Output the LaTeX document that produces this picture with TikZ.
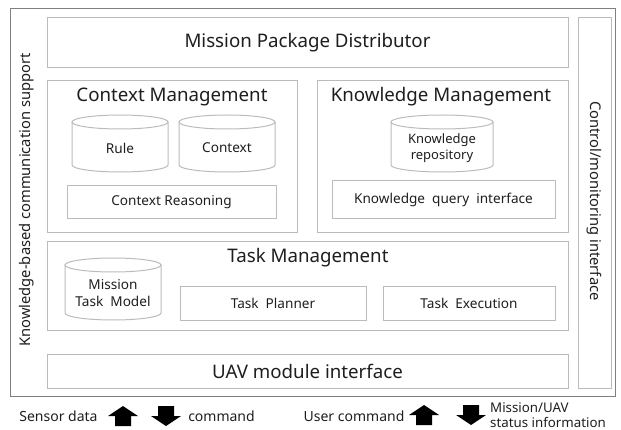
\documentclass[tikz,border=0pt]{standalone}
\usepackage{fontspec}
\setmainfont{Noto Sans}
\definecolor{boxgray}{HTML}{BBBBBB}
\definecolor{framegray}{HTML}{808080}
\definecolor{txt}{HTML}{1E1E1E}
\newcommand\cylbody[4]{%
  \pgfmathsetmacro\cylcx{(#1+#3)/2}%
  \pgfmathsetmacro\cylrx{(#3-#1)/2}%
  \draw[cyl] (\cylcx,{#2+7}) ellipse [x radius=\cylrx, y radius=7];
  \draw[cyl] (#1,{#2+7}) -- (#1,{#4-7}) .. controls (#1,{#4-3.14}) and ({\cylcx-0.552*\cylrx},#4) .. (\cylcx,#4) .. controls ({\cylcx+0.552*\cylrx},#4) and (#3,{#4-3.14}) .. (#3,{#4-7}) -- (#3,{#2+7});
}
\newcommand\arrup[2]{\fill[black] ({#1-8},{#2+20}) -- ({#1-8},{#2+10}) -- ({#1-15},{#2+10}) -- (#1,#2) -- ({#1+15},{#2+10}) -- ({#1+8},{#2+10}) -- ({#1+8},{#2+20}) -- cycle;}
\newcommand\arrdn[2]{\fill[black] ({#1-8},#2) -- ({#1-8},{#2+10}) -- ({#1-15},{#2+10}) -- (#1,{#2+20}) -- ({#1+15},{#2+10}) -- ({#1+8},{#2+10}) -- ({#1+8},#2) -- cycle;}
\begin{document}
\begin{tikzpicture}[x=1pt,y=-1pt,
  box/.style={draw=boxgray, line width=1pt, inner sep=0pt},
  framebox/.style={draw=framegray, line width=1pt, inner sep=0pt},
  title/.style={font=\fontsize{18.7}{22}\selectfont, text=txt},
  side/.style={font=\fontsize{14.7}{17}\selectfont, text=txt},
  small/.style={font=\fontsize{13.6}{16}\selectfont, text=txt, align=center},
  legend/.style={font=\fontsize{14}{16}\selectfont, text=txt},
  cyl/.style={draw=boxgray, line width=1pt}]
\useasboundingbox (0,0) rectangle (621,430);
% outer frame
\node[framebox, minimum width=605pt, minimum height=387pt] (frame) at (312.5,202.5) {};
% main boxes
\node[box, minimum width=521pt, minimum height=50pt, title] (mpd) at (307.5,43) {Mission Package Distributor};
\node[box, minimum width=250pt, minimum height=152pt] (cm) at (172,157) {};
\node[title] (cmt) at (172,97) {Context Management};
\node[box, minimum width=251pt, minimum height=152pt] (km) at (442.5,157) {};
\node[title] (kmt) at (441,97) {Knowledge Management};
\node[box, minimum width=521pt, minimum height=88pt] (tm) at (307.5,286) {};
\node[title] (tmt) at (308,258) {Task Management};
\node[box, minimum width=521pt, minimum height=34pt, title] (uav) at (307.5,371) {UAV module interface};
\node[box, minimum width=33pt, minimum height=370pt] (ctrl) at (594.5,203) {};
\node[side, rotate=-90] (ctrlt) at (594.5,201) {Control/monitoring interface};
\node[side, rotate=90] (kbc) at (27,200) {Knowledge-based communication support};
% inner boxes
\node[box, minimum width=209pt, minimum height=33pt, small] (cr) at (171.5,202.5) {Context Reasoning};
\node[box, minimum width=223pt, minimum height=38pt, small] (kqi) at (443.5,200) {Knowledge\ \ query\ \ interface};
\node[box, minimum width=186pt, minimum height=33pt, small] (tp) at (273,303.5) {Task\ \ Planner};
\node[box, minimum width=172pt, minimum height=33pt, small] (te) at (469,303.5) {Task\ \ Execution};
% cylinders
\cylbody{72}{115}{168}{172}
\node[small] (rule) at (120,148) {Rule};
\cylbody{179}{115}{275}{172}
\node[small] (ctx) at (227,148) {Context};
\cylbody{391}{115}{493}{172}
\node[small, font=\fontsize{13}{15.5}\selectfont] (kr) at (442,148) {Knowledge\\repository};
\cylbody{65}{258}{161}{320}
\node[small, font=\fontsize{13.6}{16.5}\selectfont] (mtm) at (113,293) {Mission\\Task\ \ Model};
% bottom legend
\node[legend] (sd) at (58.5,416) {Sensor data};
\arrup{123}{406}
\arrdn{166}{406}
\node[legend] (cmd) at (221.5,416) {command};
\node[legend] (uc) at (354,416) {User command};
\arrup{424}{405}
\arrdn{471}{405}
\node[align=left, anchor=west, font=\fontsize{13.3}{14.5}\selectfont, text=txt, inner sep=0pt] (mus) at (490,415) {Mission/UAV\\status information};
\end{tikzpicture}
\end{document}
